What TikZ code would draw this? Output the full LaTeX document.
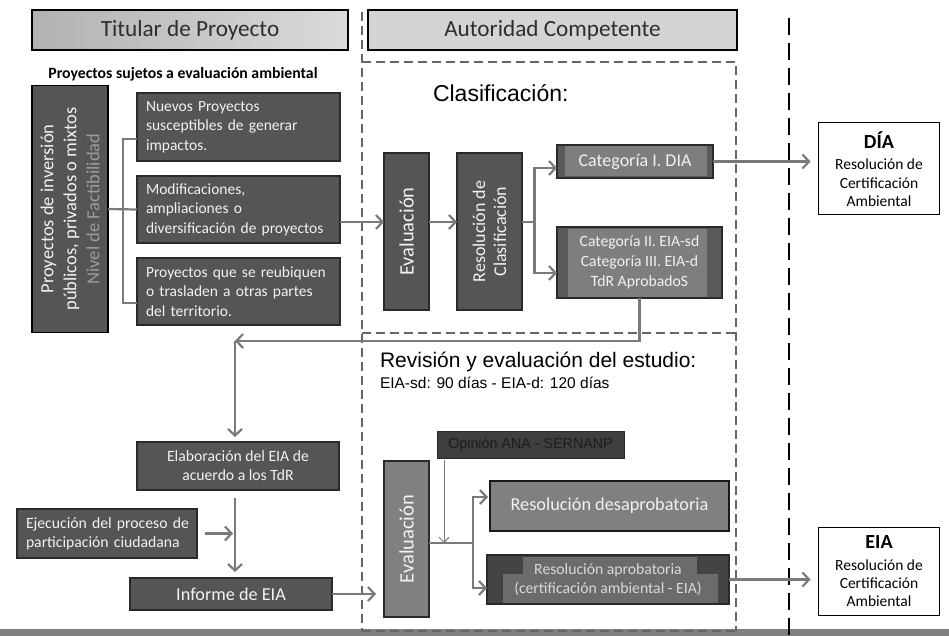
\documentclass[tikz,border=0pt]{standalone}
\usepackage{fontspec}
\setmainfont{Carlito}
\newfontfamily\arialf{Liberation Sans}
\usetikzlibrary{arrows.meta,calc}
\definecolor{boxdark}{HTML}{555555}
\definecolor{boxline}{HTML}{2A2A2A}
\definecolor{boxtext}{HTML}{F2F2F2}
\definecolor{midbox}{HTML}{808080}
\definecolor{catout}{HTML}{5A5A5A}
\definecolor{catin}{HTML}{7E7E7E}
\definecolor{aprout}{HTML}{444444}
\definecolor{aprin}{HTML}{6B6B6B}
\definecolor{opfill}{HTML}{3F3F3F}
\definecolor{optext}{HTML}{1C1C1C}
\definecolor{factgray}{HTML}{9C9C9C}
\definecolor{linkgray}{HTML}{7A7A7A}
\definecolor{dashgray}{HTML}{666666}
\definecolor{hdrL}{HTML}{B2B2B2}
\definecolor{hdrR}{HTML}{DADADA}
\definecolor{hdrflat}{HTML}{D4D4D4}
\definecolor{hdrtext}{HTML}{2E2E2E}
\definecolor{barcol}{HTML}{808080}
\newcommand\fsz[2]{\fontsize{#1}{#2}\selectfont}
\begin{document}
\begin{tikzpicture}[x=1pt,y=-1pt,
  every node/.style={inner sep=0pt, outer sep=0pt},
  hdr/.style={draw=black, line width=1.6pt, text=hdrtext, font=\fsz{23.2}{27}},
  darkbox/.style={draw=boxline, line width=1.1pt, fill=boxdark, text=boxtext},
  whitebox/.style={draw=black, line width=1pt, fill=white, text=black, align=center, font=\fsz{15.5}{18.3}},
  link/.style={draw=linkgray, line width=2.2pt},
  flow/.style={link, -{Straight Barb[length=6.5pt,width=14pt,line width=2.2pt]}},
  thinflow/.style={draw=linkgray, line width=1pt, -{Straight Barb[length=5pt,width=10pt,line width=1pt]}},
  zone/.style={draw=dashgray, line width=1.6pt, dash pattern=on 9pt off 5pt},
  split/.style={draw=black, line width=2.4pt, dash pattern=on 17pt off 8pt}
]
\useasboundingbox (0,0) rectangle (949,636);

% bottom band
\fill[barcol] (0,629) rectangle (949,636);

% zone outlines
\draw[zone] (362,12) -- (362,631);
\draw[zone] (362,62) -- (736,62) -- (736,631);
\draw[zone] (362,333) -- (736,333);
\draw[zone] (362,631) -- (736,631);
\draw[split] (789,18) -- (789,636);

% column headers
\node[hdr, left color=hdrL, right color=hdrR, minimum width=316pt, minimum height=40pt] (titular) at (190,30) {Titular de Proyecto};
\node[hdr, fill=hdrflat, minimum width=369pt, minimum height=40pt] (autoridad) at (552.5,30) {Autoridad Competente};

\node[font=\bfseries\fsz{15.75}{18}] (sujetos) at (183,74) {Proyectos sujetos a evaluación ambiental};
\node[font=\arialf\fsz{23}{26}, anchor=west] (clasif) at (433,93) {Clasificación:};
\node[font=\arialf\fsz{21}{24}, anchor=west] (revision) at (380,362) {Revisión y evaluación del estudio:};
\node[font=\arialf\fsz{15.5}{18}, anchor=west] (plazos) at (380,383) {EIA-sd: 90 días - EIA-d: 120 días};

% project owner column
\node[darkbox, draw=black, line width=1.8pt, rotate=90, minimum width=247pt, minimum height=76pt, align=center, font=\fsz{18.5}{23}] (proj) at (70,209) {Proyectos de inversión\\públicos, privados o mixtos\\\textcolor{factgray}{Nivel de Factibilidad}};
\node[darkbox, minimum width=203pt, minimum height=68pt, text width=185pt, align=left, font=\fsz{15.5}{19.5}] (nuevo) at (238.5,127) {Nuevos Proyectos\\susceptibles de generar\\impactos.};
\node[darkbox, minimum width=203pt, minimum height=67pt, text width=185pt, align=left, font=\fsz{15.5}{19.5}] (modif) at (238.5,209.5) {Modificaciones,\\ampliaciones o\\diversificación de proyectos};
\node[darkbox, minimum width=203pt, minimum height=67pt, text width=185pt, align=left, font=\fsz{15.5}{19.5}] (reub) at (238.5,291.5) {Proyectos que se reubiquen\\o trasladen a otras partes\\del territorio.};

\draw[link] ($(nuevo.west)+(0,12)$) -- ++(-14,0) |- ($(reub.west)+(0,11.5)$);
\draw[link] (proj.south) -- (modif.west);

% classification
\node[darkbox, rotate=90, minimum width=157pt, minimum height=45pt, font=\fsz{20.5}{24}] (eval1) at (406.5,231.5) {Evaluación};
\node[darkbox, rotate=90, minimum width=157pt, minimum height=65pt, align=center, font=\fsz{18}{21}] (rescl) at (489.5,231.5) {Resolución de\\Clasificación};
\node[darkbox, fill=catout, minimum width=156pt, minimum height=33pt, font=\fsz{18}{21},
  path picture={\fill[catin] ([xshift=8pt,yshift=-1.5pt]path picture bounding box.north west) rectangle ([xshift=-6pt,yshift=1.5pt]path picture bounding box.south east);}] (cat1) at (635,161.5) {Categoría I. DIA};
\node[darkbox, fill=catout, minimum width=165pt, minimum height=71pt, align=center, font=\fsz{15.7}{20},
  path picture={\fill[catin] ([xshift=11pt,yshift=-1.5pt]path picture bounding box.north west) rectangle ([xshift=-15pt,yshift=1.5pt]path picture bounding box.south east);}] (cat2) at (639.5,262.5) {Categoría II. EIA-sd\\Categoría III. EIA-d\\TdR AprobadoS};
\node[whitebox, minimum width=121pt, minimum height=92pt] (dia) at (879,169) {{\bfseries\fsz{20}{22}DÍA}\\[3.5pt]Resolución de\\Certificación\\Ambiental};

\draw[flow] ($(modif.east)+(0,12.5)$) coordinate (a1) -- (a1 -| eval1.north);
\draw[flow] (a1 -| eval1.south) -- (a1 -| rescl.north);
\draw[link] (a1 -| rescl.south) -- ++(12.5,0) coordinate (br1);
\draw[flow] (br1) |- ($(cat1.west)+(0,6.5)$);
\draw[flow] (br1) |- ($(cat2.west)+(0,10.5)$);
\draw[flow, shorten >=8pt] (cat1.east) -- (cat1.east -| dia.west);

% study preparation
\coordinate (turn) at (235,341);
\node[darkbox, minimum width=202pt, minimum height=48pt, align=center, font=\fsz{15.7}{19}] (elab) at (238,466) {Elaboración del EIA de\\acuerdo a los TdR};
\node[darkbox, minimum width=180pt, minimum height=49pt, text width=162pt, align=left, font=\fsz{15.7}{19}] (ejec) at (107,533.5) {\mbox{Ejecución del proceso de}\\\mbox{participación ciudadana}};
\node[darkbox, minimum width=202pt, minimum height=32pt, font=\fsz{18.2}{21}] (inf) at (231,594) {Informe de EIA};

\draw[flow] (cat2.south) |- (turn);
\draw[flow, shorten >=5pt] (turn) -- (turn |- elab.north);
\draw[flow, shorten <=8pt, shorten >=6pt] (turn |- elab.south) -- (turn |- inf.north);
\draw[flow, shorten <=8pt, shorten >=2pt] (ejec.east) -- (ejec.east -| turn);

% review of the study
\node[darkbox, fill=midbox, rotate=90, minimum width=156pt, minimum height=45pt, font=\fsz{20.5}{24}] (eval2) at (406.5,539) {Evaluación};
\node[draw=boxline, line width=1pt, fill=opfill, text=optext, minimum width=187pt, minimum height=27pt, font=\arialf\fsz{14.3}{17}] (opin) at (530.5,444.5) {Opinión ANA - SERNANP};
\node[darkbox, draw=black!90, fill=midbox, minimum width=239pt, minimum height=50pt, font=\fsz{18.3}{21}] (desap) at (609.5,506) {Resolución desaprobatoria};
\node[darkbox, fill=aprout, minimum width=242pt, minimum height=49pt, align=center, text=black!15, font=\fsz{15.7}{19},
  path picture={
    \fill[aprin] ([xshift=36pt,yshift=-2pt]path picture bounding box.north west) rectangle ([xshift=-32pt,yshift=-19pt]path picture bounding box.north east);
    \fill[aprin] ([xshift=16pt,yshift=-19pt]path picture bounding box.north west) rectangle ([xshift=-11pt,yshift=1pt]path picture bounding box.south east);}] (aprob) at (608,579.5) {Resolución aprobatoria\\(certificación ambiental - EIA)};
\node[whitebox, minimum width=121pt, minimum height=88pt] (eia) at (879,571) {{\bfseries\fsz{20}{22}EIA}\\[3.5pt]Resolución de\\Certificación\\Ambiental};

\draw[flow, shorten >=8pt] (inf.east) -- (inf.east -| eval2.north);
\draw[link] ($(eval2.south)+(0,4)$) -- ++(44,0) coordinate (br2);
\draw[flow, shorten >=2pt] (br2) |- ($(desap.west)+(0,-9)$);
\draw[flow] (br2) |- ($(aprob.west)+(0,8.5)$);
\coordinate (opx) at ($(opin.south west)+(7,1.5)$);
\draw[thinflow] (opx) -- (opx |- br2);
\draw[flow, shorten >=8pt] (aprob.east) -- (aprob.east -| eia.west);
\end{tikzpicture}
\end{document}
